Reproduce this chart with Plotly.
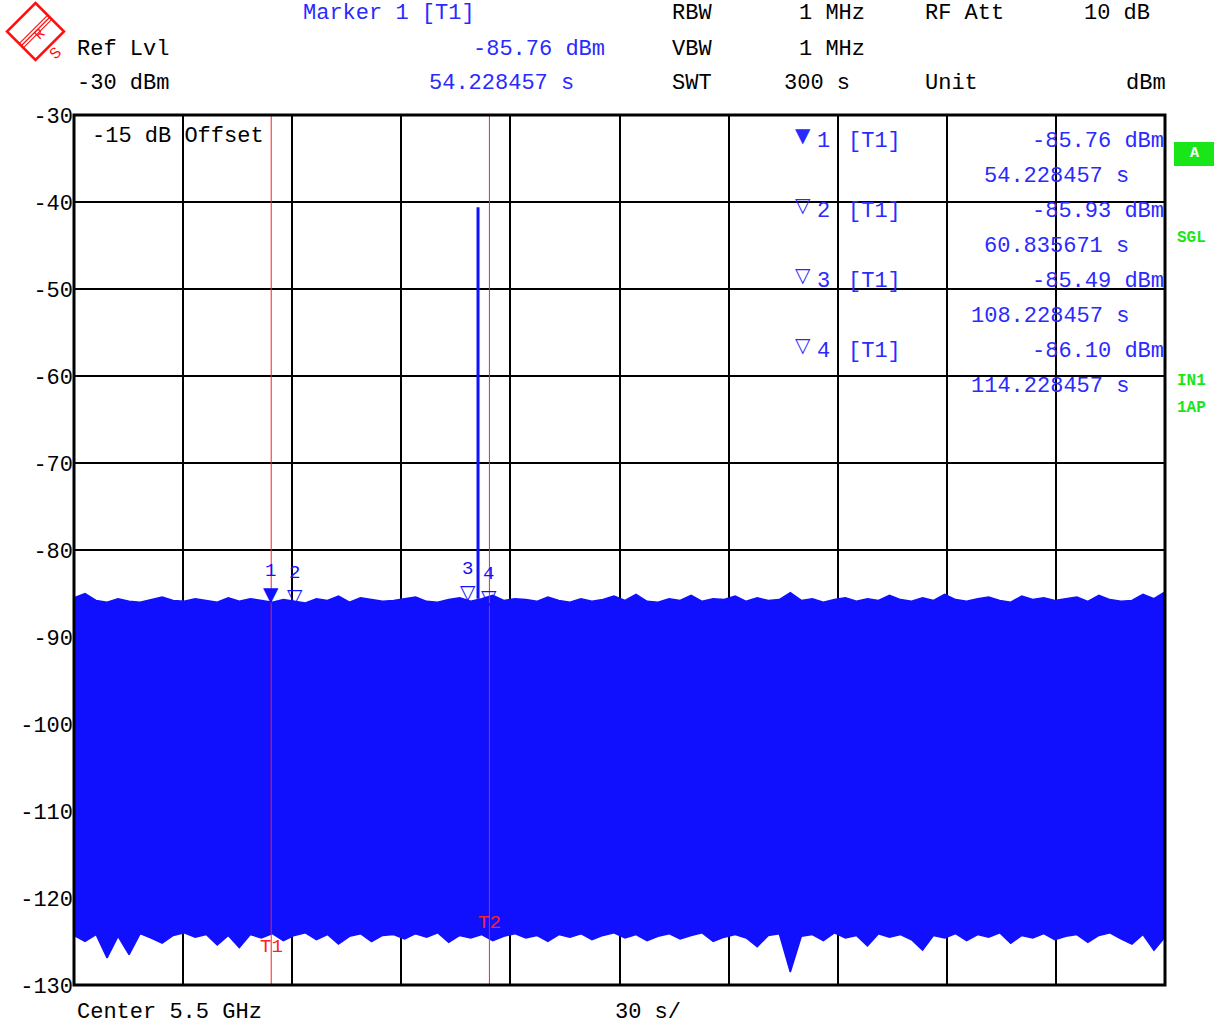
import numpy as np
import plotly.graph_objects as go

# ---------------- data ----------------
sweep_start, sweep_stop = 0.0, 300.0          # s
ref_level = -30                                # dBm
y_ticks = [-30, -40, -50, -60, -70, -80, -90, -100, -110, -120, -130]

# upper envelope of the zero-span trace (dBm)
trace_top = [
    -85.5, -85.0, -85.8, -86.0, -85.6, -85.9, -86.0, -85.7, -85.4, -85.8,
    -85.9, -85.6, -85.8, -86.0, -85.5, -85.9, -85.6, -85.8, -86.0, -85.7,
    -85.9, -86.1, -85.6, -85.8, -85.3, -86.0, -85.5, -85.7, -85.9, -85.8,
    -85.6, -85.4, -85.9, -86.0, -85.7, -85.5, -85.9, -85.6, -85.2, -85.8,
    -85.6, -85.7, -85.9, -85.4, -85.8, -86.0, -85.6, -85.9, -85.7, -85.3,
    -85.8, -85.1, -85.9, -86.0, -85.6, -85.8, -85.2, -85.9, -85.6, -85.7,
    -85.3, -85.9, -85.5, -85.8, -85.7, -84.9, -85.8, -85.6, -86.0, -85.7,
    -85.5, -85.9, -85.6, -85.8, -85.2, -85.7, -85.9, -85.5, -85.8, -85.1,
    -85.7, -85.9, -85.6, -85.4, -85.8, -86.0, -85.3, -85.7, -85.5, -85.8,
    -85.6, -85.4, -85.9, -85.2, -85.7, -85.9, -85.8, -85.1, -85.6, -84.8]

# lower envelope of the trace (dBm)
trace_bottom = [
    -124.3, -125.0, -124.2, -126.9, -124.4, -126.5, -124.1, -124.6, -125.2, -124.3,
    -124.0, -124.5, -124.2, -125.4, -124.3, -125.7, -124.2, -124.6, -124.1, -124.9,
    -124.3, -124.0, -124.8, -124.2, -125.3, -124.4, -124.1, -125.0, -124.3, -124.2,
    -124.7, -124.1, -124.5, -124.0, -125.1, -124.3, -124.6, -124.2, -124.9, -124.4,
    -124.1, -124.6, -124.3, -125.0, -124.2, -124.5, -124.1, -124.8, -124.3, -124.0,
    -124.6, -124.2, -124.9, -124.4, -124.1, -124.7, -124.3, -124.0, -125.0, -124.5,
    -124.2, -124.6, -125.6, -124.3, -124.1, -128.5, -124.4, -124.2, -124.9, -124.0,
    -124.6, -124.3, -125.5, -124.1, -124.5, -124.2, -124.8, -126.0, -124.3, -124.6,
    -124.1, -124.9, -124.2, -124.5, -124.0, -125.2, -124.3, -124.6, -124.1, -124.8,
    -124.4, -124.2, -125.1, -124.3, -124.0, -124.7, -125.3, -124.2, -126.0, -124.5]

# single burst in the trace
spike_time = 111.1      # s
spike_peak = -40.6      # dBm

# markers
marker_ids = [1, 2, 3, 4]
marker_times = [54.228457, 60.835671, 108.228457, 114.228457]   # s
marker_levels = [-85.76, -85.93, -85.49, -86.10]                # dBm
marker_active = [True, False, False, False]

# time lines
time_line_names = ["T1", "T2"]
time_line_values = [54.228457, 114.228457]
time_line_label_levels = [-125.6, -122.9]

# ---------------- style helpers ----------------
W, H = 1223, 1025
L, R, T, B = 74, 1165, 115, 985
BLUE = "#1010FF"
TXT_BLUE = "#2A2AFF"
GREEN = "#19E619"
MONO = "Liberation Mono, Courier New, monospace"
FS = 22


def px(x):
    return (x - L) / (R - L)


def py(y):
    return (B - y) / (B - T)


n = len(trace_top)
t = np.linspace(sweep_start, sweep_stop, n)

fig = go.Figure()
fig.add_trace(go.Scatter(x=t, y=trace_bottom, mode="lines",
                         line=dict(color=BLUE, width=1.5), hoverinfo="skip",
                         showlegend=False))
fig.add_trace(go.Scatter(x=t, y=trace_top, mode="lines", fill="tonexty",
                         fillcolor=BLUE, line=dict(color=BLUE, width=1.5),
                         hoverinfo="skip", showlegend=False))
idx = int(np.argmin(np.abs(t - spike_time)))
fig.add_trace(go.Scatter(x=[spike_time, spike_time], y=[trace_top[idx], spike_peak],
                         mode="lines", line=dict(color=BLUE, width=3),
                         hoverinfo="skip", showlegend=False))

ann = []
shapes = []


def text(s, x, y, color="black", anchor="left", size=FS, family=MONO, **kw):
    ann.append(dict(text=s, x=px(x), y=py(y), xref="paper", yref="paper",
                    xanchor=anchor, yanchor="middle", showarrow=False,
                    font=dict(family=family, size=size, color=color), **kw))


# header
text("Marker 1 [T1]", 301, 14, TXT_BLUE)
text("Ref Lvl", 75, 49)
text(f"{marker_levels[0]:.2f} dBm", 607, 49, TXT_BLUE, "right")
text(f"{ref_level} dBm", 75, 84)
text(f"{marker_times[0]:.6f} s", 576, 84, TXT_BLUE, "right")
text("RBW", 670, 14)
text("1 MHz", 867, 14, anchor="right")
text("RF Att", 923, 14)
text("10 dB", 1152, 14, anchor="right")
text("VBW", 670, 49)
text("1 MHz", 867, 49, anchor="right")
text("SWT", 670, 84)
text(f"{int(sweep_stop)} s", 852, 84, anchor="right")
text("Unit", 923, 84)
text("dBm", 1168, 84, anchor="right")

# bottom
text("Center 5.5 GHz", 75, 1013)
text(f"{int((sweep_stop - sweep_start) / 10)} s/", 613, 1013)

# inside text
text("-15 dB Offset", 90, 136)

# marker table
for k, (mid, mt, ml, act) in enumerate(zip(marker_ids, marker_times, marker_levels, marker_active)):
    y0 = 141 + 70 * k
    text("▼" if act else "▽", 803, y0 - 6, TXT_BLUE, "center", size=20, family="DejaVu Sans")
    text(str(mid), 815, y0, TXT_BLUE)
    text("[T1]", 846, y0, TXT_BLUE)
    text(f"{ml:.2f} dBm", 1166, y0, TXT_BLUE, "right")
    text(f"{mt:.6f} s", 1131, y0 + 35, TXT_BLUE, "right")

# right-side status labels
ann.append(dict(text="<b>A</b>", x=px(1194), y=py(154), xref="paper", yref="paper",
                xanchor="center", yanchor="middle", showarrow=False,
                font=dict(family=MONO, size=15, color="white")))
shapes.append(dict(type="rect", xref="paper", yref="paper", x0=px(1174), x1=px(1214),
                   y0=py(166), y1=py(142), fillcolor=GREEN, line=dict(width=0), layer="below"))
for s, yy in [("SGL", 238), ("IN1", 381), ("1AP", 408)]:
    text(f"<b>{s}</b>", 1175, yy, GREEN, size=16)

# markers in the diagram (number stacked above the triangle)
for mid, mt, ml, act in zip(marker_ids, marker_times, marker_levels, marker_active):
    tri = "▼" if act else "▽"
    ann.append(dict(text=f"{mid}<br><span style='font-family:DejaVu Sans;font-size:20px'>{tri}</span>",
                    x=mt, y=ml, xref="x", yref="y",
                    xanchor="center", yanchor="bottom", showarrow=False, yshift=-8,
                    font=dict(family=MONO, size=19, color=BLUE)))

# time lines
for name, tv, lv in zip(time_line_names, time_line_values, time_line_label_levels):
    shapes.append(dict(type="line", xref="x", yref="paper", x0=tv, x1=tv, y0=0, y1=1,
                       line=dict(color="#FF2020", width=1), layer="above"))
    ann.append(dict(text=name, x=tv, y=lv, xref="x", yref="y", xanchor="center",
                    yanchor="middle", showarrow=False,
                    font=dict(family=MONO, size=19, color="#FF2020")))

# frame
shapes.append(dict(type="rect", xref="paper", yref="paper", x0=0, x1=1, y0=0, y1=1,
                   line=dict(color="black", width=3), layer="above"))

# R&S logo
RED = "#FF1010"
cx, cy, r = 35.5, 31.5, 28.5
shapes.append(dict(type="path", xref="paper", yref="paper",
                   path=(f"M {px(cx)} {py(cy - r)} L {px(cx + r)} {py(cy)} "
                         f"L {px(cx)} {py(cy + r)} L {px(cx - r)} {py(cy)} Z"),
                   line=dict(color=RED, width=2.5)))
for off in (-3, 0, 3):
    shapes.append(dict(type="line", xref="paper", yref="paper",
                       x0=px(21.5 + off * 0.7), y0=py(45.5 + off * 0.7),
                       x1=px(50 + off * 0.7), y1=py(17 + off * 0.7),
                       line=dict(color=RED, width=1.2)))
ann.append(dict(text="R", x=px(28), y=py(22), xref="paper", yref="paper", showarrow=False,
                textangle=-45, font=dict(family=MONO, size=14, color=RED)))
ann.append(dict(text="S", x=px(43), y=py(41), xref="paper", yref="paper", showarrow=False,
                textangle=-45, font=dict(family=MONO, size=16, color=RED)))

fig.update_layout(
    width=W, height=H,
    margin=dict(l=L, r=W - R, t=T, b=H - B, pad=0),
    paper_bgcolor="white", plot_bgcolor="white",
    showlegend=False,
    annotations=ann, shapes=shapes,
    xaxis=dict(range=[sweep_start, sweep_stop], dtick=30, tick0=0, showgrid=True,
               gridcolor="black", gridwidth=1.5, showticklabels=False, zeroline=False,
               showline=False, ticks=""),
    yaxis=dict(range=[y_ticks[-1], y_ticks[0]], tickvals=y_ticks,
               ticktext=[str(v) for v in y_ticks], showgrid=True, gridcolor="black",
               gridwidth=1.5, zeroline=False, showline=False, ticks="",
               tickfont=dict(family=MONO, size=FS, color="black")),
)

fig.write_html("out.html", config={"displayModeBar": False},
               post_script="document.body.style.margin='0';document.body.style.overflow='hidden';")
